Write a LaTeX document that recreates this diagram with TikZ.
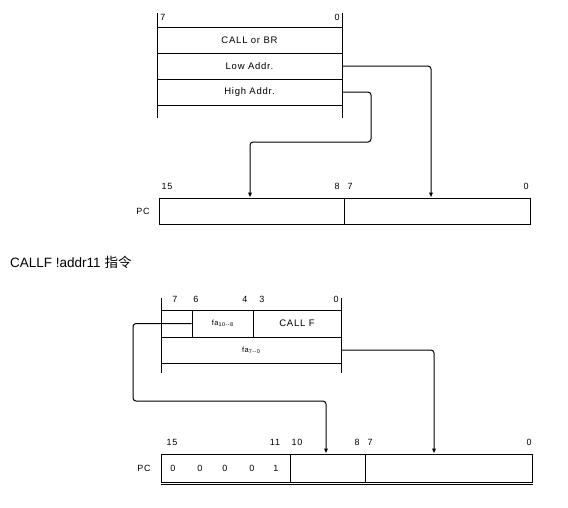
\documentclass[tikz,border=0pt]{standalone}
\usepackage{fontspec}
\setmainfont{Liberation Sans}
\newfontfamily\cjk{Noto Sans CJK SC}
\newfontfamily\lbl[LetterSpace=8]{Liberation Sans}
\usetikzlibrary{arrows.meta}
\begin{document}
\begin{tikzpicture}[x=1pt,y=-1pt,
  cell/.style={draw,line width=1pt,inner sep=0pt,font=\lbl\fontsize{9.5}{11}\selectfont},
  bit/.style={inner sep=0pt,font=\lbl\fontsize{9}{10}\selectfont},
  frame/.style={line width=1pt},
  conn/.style={line width=1pt,rounded corners=3pt,-{Latex[length=5pt,width=4.5pt]}}]
\useasboundingbox (0,0) rectangle (568,507);

% ---------- top instruction bytes ----------
\node[cell,minimum width=185pt,minimum height=26pt] (call) at (249.5,40) {CALL or BR};
\node[cell,minimum width=185pt,minimum height=26pt] (low)  at (249.5,66) {Low Addr.};
\node[cell,minimum width=185pt,minimum height=26pt] (high) at (249.5,92) {High Addr.};
\draw[frame] (157,13) -- (157,118);
\draw[frame] (342,13) -- (342,118);
\node[bit] (t7) at (163,17) {7};
\node[bit] (t0) at (337,17) {0};

% ---------- top PC ----------
\node[cell,minimum width=185pt,minimum height=26pt] (pcl) at (251.5,211) {};
\node[cell,minimum width=186pt,minimum height=26pt] (pcr) at (437,211) {};
\node[bit] (pc1) at (143,211) {PC};
\node[bit] (p15) at (167,186) {15};
\node[bit] (p8)  at (337,186) {8};
\node[bit] (p7)  at (350,186) {7};
\node[bit] (p0)  at (526,186) {0};

\draw[conn] (low.east) -| ([xshift=-6pt]pcr.north);
\draw[conn] (high.east) -| (371,142) -| ([xshift=-1.5pt]pcl.north);

% ---------- caption ----------
\node[anchor=west,inner sep=0pt,font=\fontsize{13.5}{15}\selectfont] (cap) at (10,262) {CALLF !addr11 {\cjk 指令}};

% ---------- bottom instruction bytes ----------
\node[cell,minimum width=31pt,minimum height=27pt] (c7) at (176.5,323.5) {};
\node[cell,minimum width=61pt,minimum height=27pt] (fa108) at (222.5,323.5)
  {\fontsize{7.5}{8}\selectfont fa\raisebox{-1.2pt}{\fontsize{5.5}{6}\selectfont 10--8}};
\node[cell,minimum width=88pt,minimum height=27pt] (callf) at (297,323.5) {CALL F};
\node[cell,minimum width=180pt,minimum height=26pt] (fa70) at (251,350)
  {\fontsize{7.5}{8}\selectfont fa\raisebox{-1.2pt}{\fontsize{5.5}{6}\selectfont 7--0}};
\draw[frame] (161,298) -- (161,373);
\draw[frame] (341,298) -- (341,373);
\node[bit] (b7) at (175,299) {7};
\node[bit] (b6) at (196,299) {6};
\node[bit] (b4) at (245,299) {4};
\node[bit] (b3) at (262,299) {3};
\node[bit] (b0) at (336,299) {0};

% ---------- bottom PC ----------
\node[cell,minimum width=129pt,minimum height=28pt] (q1) at (225.5,468) {};
\node[cell,minimum width=75pt,minimum height=28pt] (q2) at (327.5,468) {};
\node[cell,minimum width=167pt,minimum height=28pt] (q3) at (448.5,468) {};
\draw[line width=0.6pt] ([yshift=-2pt]q1.south west) -- ([yshift=-2pt]q3.south east);
\node[bit] (pc2) at (144,468) {PC};
\node[bit] (d1) at (173,468) {0};
\node[bit] (d2) at (200,468) {0};
\node[bit] (d3) at (225,468) {0};
\node[bit] (d4) at (252,468) {0};
\node[bit] (d5) at (276,468) {1};
\node[bit] (r15) at (172,442) {15};
\node[bit] (r11) at (275,442) {11};
\node[bit] (r10) at (297,442) {10};
\node[bit] (r8)  at (357,442) {8};
\node[bit] (r7)  at (370,442) {7};
\node[bit] (r0)  at (529,442) {0};

\draw[conn] (fa108.west) -| (133,401) -| ([xshift=-1.5pt]q2.north);
\draw[conn] (fa70.east) -| ([xshift=-14.5pt]q3.north);
\end{tikzpicture}
\end{document}
